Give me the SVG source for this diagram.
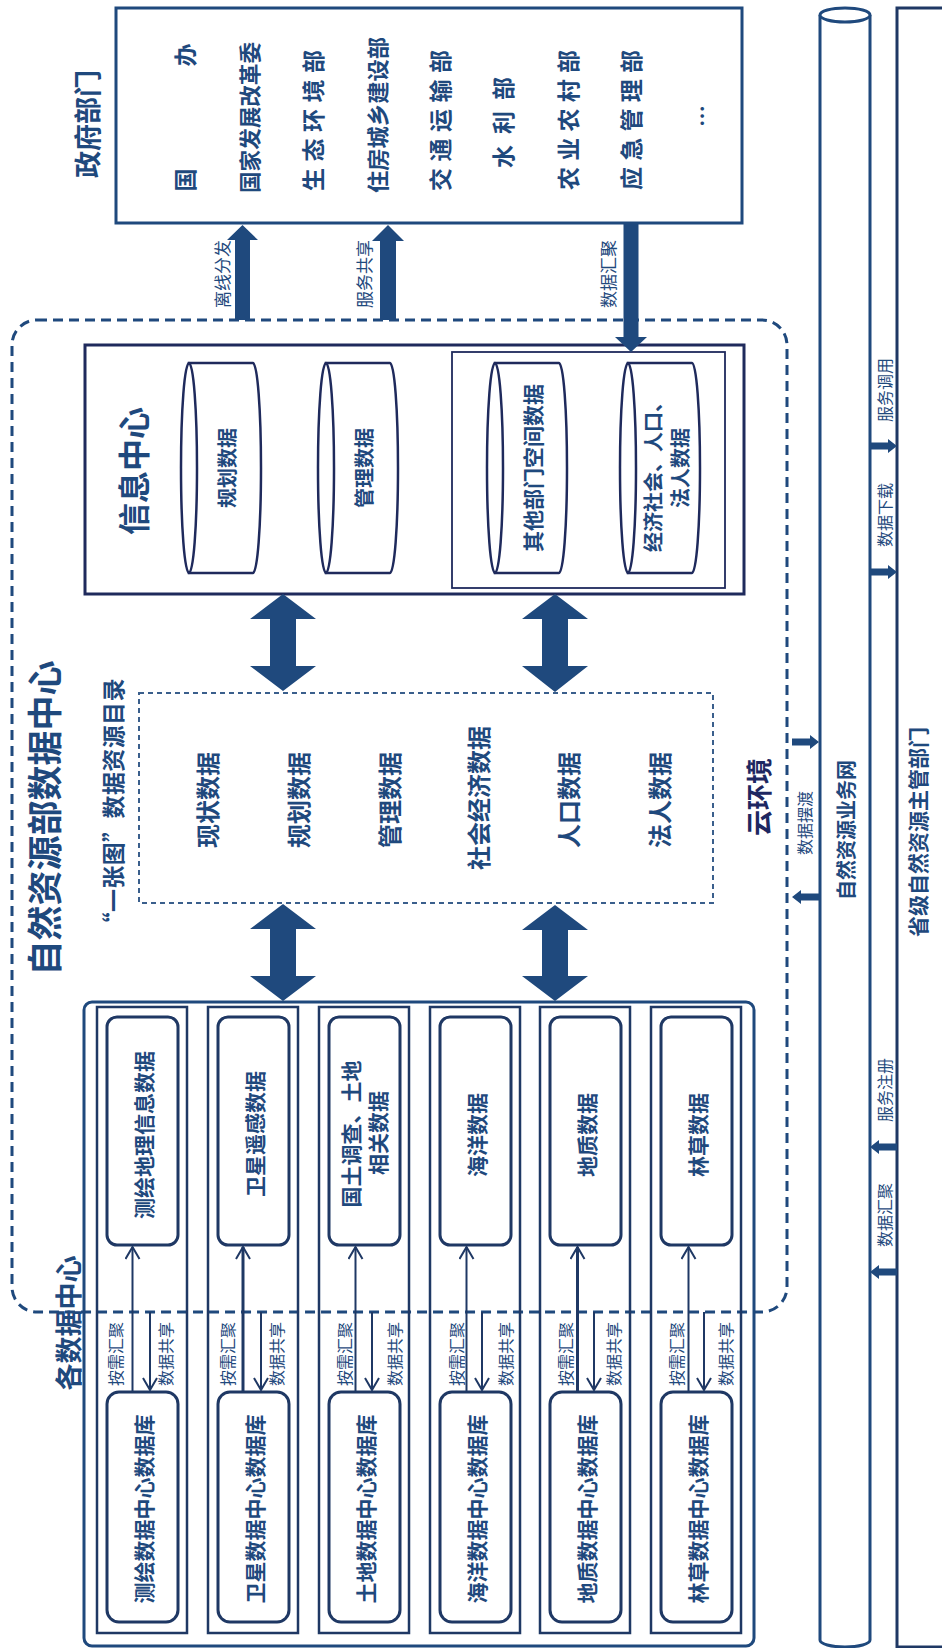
<svg xmlns="http://www.w3.org/2000/svg" width="942" height="1648" viewBox="0 0 942 1648">
<style>
.t{font-family:"Noto Sans CJK SC","Noto Sans",sans-serif;fill:#1F497D;text-anchor:middle;dominant-baseline:central}
.b{font-weight:bold}
.nv{fill:#1E2761}
.arr{fill:#1F497D}
.col{fill:none;stroke:#1F3864;stroke-width:2.5}
.ibox{fill:#fff;stroke:#1F3864;stroke-width:3}
.cyl{fill:#fff;stroke:#1F2A5C;stroke-width:2.5}
.ln{stroke:#1F3864;stroke-width:2;fill:none}
.ln3{stroke:#1F3864;stroke-width:3;fill:none}
</style>
<defs>
<marker id="v" markerUnits="userSpaceOnUse" markerWidth="16" markerHeight="16" refX="13" refY="8" orient="auto">
<path d="M1,1 L13,8 L1,15" fill="none" stroke="#1F3864" stroke-width="2"/>
</marker>
</defs>
<rect width="942" height="1648" fill="#fff"/>

<!-- Government departments -->
<g id="gov">
<rect x="116" y="8" width="626" height="215" fill="#fff" stroke="#1F497D" stroke-width="3"/>
<text class="t b" style="font-size:27px" transform="translate(86,124) rotate(-90)">政府部门</text>
<text class="t b" style="font-size:23px" transform="translate(184,117.5) rotate(-90)" textLength="148" lengthAdjust="spacing">国办</text>
<text class="t b" style="font-size:22px" transform="translate(248,117.5) rotate(-90)" textLength="151" lengthAdjust="spacingAndGlyphs">国家发展改革委</text>
<text class="t b" style="font-size:23px" transform="translate(312,120.5) rotate(-90)" textLength="141" lengthAdjust="spacing">生态环境部</text>
<text class="t b" style="font-size:22px" transform="translate(376,115) rotate(-90)" textLength="156" lengthAdjust="spacingAndGlyphs">住房城乡建设部</text>
<text class="t b" style="font-size:23px" transform="translate(439,120.5) rotate(-90)" textLength="141" lengthAdjust="spacing">交通运输部</text>
<text class="t b" style="font-size:23px" transform="translate(502,122.5) rotate(-90)" textLength="91" lengthAdjust="spacing">水利部</text>
<text class="t b" style="font-size:23px" transform="translate(567,120) rotate(-90)" textLength="140" lengthAdjust="spacing">农业农村部</text>
<text class="t b" style="font-size:23px" transform="translate(630,120) rotate(-90)" textLength="140" lengthAdjust="spacing">应急管理部</text>
<text class="t b" style="font-size:22px" transform="translate(700,116) rotate(-90)">…</text>
</g>

<!-- Ministry data center region -->
<g id="ministry">
<rect x="12" y="320" width="775" height="992" rx="25" fill="none" stroke="#1F497D" stroke-width="3" stroke-dasharray="10 6"/>
<text class="t b" style="font-size:35px" transform="translate(42,818) rotate(-90)">自然资源部数据中心</text>
<text class="t b nv" style="font-size:26px" transform="translate(757,797) rotate(-90)">云环境</text>
</g>

<!-- Information center -->
<g id="info">
<rect x="85" y="345" width="659" height="249" fill="#fff" stroke="#1F2A5C" stroke-width="3"/>
<rect x="452" y="352" width="273" height="236" fill="none" stroke="#1F2A5C" stroke-width="1.8"/>
<text class="t b" style="font-size:32px" transform="translate(132,471) rotate(-90)">信息中心</text>
<g id="cyl1">
<path class="cyl" d="M189,363 H253 A8,105 0 0 1 253,573 H189 Z"/>
<ellipse class="cyl" cx="189" cy="468" rx="8" ry="105"/>
<text class="t b" style="font-size:20px" transform="translate(226,468) rotate(-90)">规划数据</text>
</g>
<g id="cyl2">
<path class="cyl" d="M326,363 H390 A8,105 0 0 1 390,573 H326 Z"/>
<ellipse class="cyl" cx="326" cy="468" rx="8" ry="105"/>
<text class="t b" style="font-size:20px" transform="translate(363,468) rotate(-90)">管理数据</text>
</g>
<g id="cyl3">
<path class="cyl" d="M495,363 H559 A8,105 0 0 1 559,573 H495 Z"/>
<ellipse class="cyl" cx="495" cy="468" rx="8" ry="105"/>
<text class="t b" style="font-size:21px" transform="translate(532,468) rotate(-90)">其他部门空间数据</text>
</g>
<g id="cyl4">
<path class="cyl" d="M628,363 H692 A8,105 0 0 1 692,573 H628 Z"/>
<ellipse class="cyl" cx="628" cy="468" rx="8" ry="105"/>
<text class="t b" style="font-size:20px" transform="translate(652,472) rotate(-90)">经济社会、人口、</text>
<text class="t b" style="font-size:20px" transform="translate(679,468) rotate(-90)">法人数据</text>
</g>
</g>

<!-- Catalogue -->
<g id="catalog">
<rect x="139" y="693" width="574" height="210" fill="none" stroke="#3A5F8C" stroke-width="2" stroke-dasharray="5 4"/>
<text class="t b" style="font-size:23px" transform="translate(112,807) rotate(-90)" textLength="257" lengthAdjust="spacing">“一张图”数据资源目录</text>
<text class="t b" style="font-size:24px" transform="translate(206,800) rotate(-90)">现状数据</text>
<text class="t b" style="font-size:24px" transform="translate(297,800) rotate(-90)">规划数据</text>
<text class="t b" style="font-size:24px" transform="translate(388,800) rotate(-90)">管理数据</text>
<text class="t b" style="font-size:24px" transform="translate(477,798) rotate(-90)">社会经济数据</text>
<text class="t b" style="font-size:24px" transform="translate(567,800) rotate(-90)">人口数据</text>
<text class="t b" style="font-size:24px" transform="translate(658,800) rotate(-90)">法人数据</text>
</g>

<!-- Data centers -->
<g id="centers">
<rect x="84" y="1002" width="670" height="644" rx="8" fill="none" stroke="#1F497D" stroke-width="3"/>
<text class="t b" style="font-size:27px" transform="translate(67,1323) rotate(-90)">各数据中心</text>
</g>
<g id="dc1">
<rect class="col" x="97" y="1007" width="90" height="626"/>
<rect class="ibox" x="107" y="1017" width="71" height="228" rx="10"/>
<rect class="ibox" x="107" y="1392" width="71" height="230" rx="12"/>
<text class="t b" style="font-size:21px" transform="translate(142.5,1135) rotate(-90)">测绘地理信息数据</text>
<text class="t b" style="font-size:21px" transform="translate(142.5,1509) rotate(-90)">测绘数据中心数据库</text>
</g>
<g id="dc2">
<rect class="col" x="208" y="1007" width="90" height="626"/>
<rect class="ibox" x="218" y="1017" width="71" height="228" rx="10"/>
<rect class="ibox" x="218" y="1392" width="71" height="230" rx="12"/>
<text class="t b" style="font-size:21px" transform="translate(253.5,1134) rotate(-90)">卫星遥感数据</text>
<text class="t b" style="font-size:21px" transform="translate(253.5,1509) rotate(-90)">卫星数据中心数据库</text>
</g>
<g id="dc3">
<rect class="col" x="319" y="1007" width="90" height="626"/>
<rect class="ibox" x="329" y="1017" width="71" height="228" rx="10"/>
<rect class="ibox" x="329" y="1392" width="71" height="230" rx="12"/>
<text class="t b" style="font-size:21px" transform="translate(350,1134) rotate(-90)">国土调查、土地</text>
<text class="t b" style="font-size:21px" transform="translate(377,1133) rotate(-90)">相关数据</text>
<text class="t b" style="font-size:21px" transform="translate(364.5,1509) rotate(-90)">土地数据中心数据库</text>
</g>
<g id="dc4">
<rect class="col" x="430" y="1007" width="90" height="626"/>
<rect class="ibox" x="440" y="1017" width="71" height="228" rx="10"/>
<rect class="ibox" x="440" y="1392" width="71" height="230" rx="12"/>
<text class="t b" style="font-size:21px" transform="translate(475.5,1135) rotate(-90)">海洋数据</text>
<text class="t b" style="font-size:21px" transform="translate(475.5,1509) rotate(-90)">海洋数据中心数据库</text>
</g>
<g id="dc5">
<rect class="col" x="540" y="1007" width="90" height="626"/>
<rect class="ibox" x="550" y="1017" width="71" height="228" rx="10"/>
<rect class="ibox" x="550" y="1392" width="71" height="230" rx="12"/>
<text class="t b" style="font-size:21px" transform="translate(585.5,1135) rotate(-90)">地质数据</text>
<text class="t b" style="font-size:21px" transform="translate(585.5,1509) rotate(-90)">地质数据中心数据库</text>
</g>
<g id="dc6">
<rect class="col" x="651" y="1007" width="90" height="626"/>
<rect class="ibox" x="661" y="1017" width="71" height="228" rx="10"/>
<rect class="ibox" x="661" y="1392" width="71" height="230" rx="12"/>
<text class="t b" style="font-size:21px" transform="translate(696.5,1135) rotate(-90)">林草数据</text>
<text class="t b" style="font-size:21px" transform="translate(696.5,1509) rotate(-90)">林草数据中心数据库</text>
</g>

<!-- Network pipe -->
<g id="pipe">
<path d="M820,15 V1640 A25,7 0 0 0 870,1640 V15" fill="#fff" stroke="#1F497D" stroke-width="3"/>
<ellipse cx="845" cy="15" rx="25" ry="7" fill="#fff" stroke="#1F497D" stroke-width="3"/>
<text class="t b" style="font-size:20px" transform="translate(845,830) rotate(-90)">自然资源业务网</text>
</g>

<!-- Provincial department -->
<g id="province">
<rect x="897" y="8" width="70" height="1639" fill="#fff" stroke="#1F3864" stroke-width="3"/>
<text class="t b" style="font-size:21px" transform="translate(917,832) rotate(-90)">省级自然资源主管部门</text>
</g>

<!-- Connectors -->
<g id="connectors">
<polygon class="arr" points="242.5,225 258,240 250,240 250,320 235,320 235,240 227,240"/>
<polygon class="arr" points="388,225 404,241 396,241 396,320 380,320 380,241 372,241"/>
<polygon class="arr" points="623.5,223 638.5,223 638.5,337 647,337 631,352 615,337 623.5,337"/>
<text class="t" style="font-size:17px" transform="translate(221,274) rotate(-90)">离线分发</text>
<text class="t" style="font-size:17px" transform="translate(363,274) rotate(-90)">服务共享</text>
<text class="t" style="font-size:17px" transform="translate(607,274) rotate(-90)">数据汇聚</text>

<polygon class="arr" points="283,594 316,619 296,619 296,666 316,666 283,691 250,666 270,666 270,619 250,619"/>
<polygon class="arr" points="555,594 588,619 568,619 568,666 588,666 555,692 522,666 542,666 542,619 522,619"/>
<polygon class="arr" points="283,904 316,929 296,929 296,976 316,976 283,1001 250,976 270,976 270,929 250,929"/>
<polygon class="arr" points="555,905 588,930 568,930 568,976 588,976 555,1001 522,976 542,976 542,930 522,930"/>

<line class="ln" x1="132.5" y1="1392" x2="132.5" y2="1247" marker-end="url(#v)"/>
<line class="ln" x1="150" y1="1312" x2="150" y2="1390" marker-end="url(#v)"/>
<line class="ln3" x1="243" y1="1392" x2="243" y2="1247" marker-end="url(#v)"/>
<line class="ln" x1="261" y1="1312" x2="261" y2="1390" marker-end="url(#v)"/>
<line class="ln" x1="355.5" y1="1392" x2="355.5" y2="1247" marker-end="url(#v)"/>
<line class="ln" x1="372" y1="1312" x2="372" y2="1390" marker-end="url(#v)"/>
<line class="ln" x1="466.5" y1="1392" x2="466.5" y2="1247" marker-end="url(#v)"/>
<line class="ln" x1="482" y1="1312" x2="482" y2="1390" marker-end="url(#v)"/>
<line class="ln3" x1="577.5" y1="1392" x2="577.5" y2="1247" marker-end="url(#v)"/>
<line class="ln" x1="594" y1="1312" x2="594" y2="1390" marker-end="url(#v)"/>
<line class="ln" x1="688.5" y1="1392" x2="688.5" y2="1247" marker-end="url(#v)"/>
<line class="ln" x1="704" y1="1312" x2="704" y2="1390" marker-end="url(#v)"/>

<text class="t" style="font-size:16px" transform="translate(115,1354) rotate(-90)">按需汇聚</text>
<text class="t" style="font-size:16px" transform="translate(165,1354) rotate(-90)">数据共享</text>
<text class="t" style="font-size:16px" transform="translate(227,1354) rotate(-90)">按需汇聚</text>
<text class="t" style="font-size:16px" transform="translate(276,1354) rotate(-90)">数据共享</text>
<text class="t" style="font-size:16px" transform="translate(344,1354) rotate(-90)">按需汇聚</text>
<text class="t" style="font-size:16px" transform="translate(394,1354) rotate(-90)">数据共享</text>
<text class="t" style="font-size:16px" transform="translate(456,1354) rotate(-90)">按需汇聚</text>
<text class="t" style="font-size:16px" transform="translate(505,1354) rotate(-90)">数据共享</text>
<text class="t" style="font-size:16px" transform="translate(565,1354) rotate(-90)">按需汇聚</text>
<text class="t" style="font-size:16px" transform="translate(613,1354) rotate(-90)">数据共享</text>
<text class="t" style="font-size:16px" transform="translate(676,1354) rotate(-90)">按需汇聚</text>
<text class="t" style="font-size:16px" transform="translate(725,1354) rotate(-90)">数据共享</text>

<polygon class="arr" points="792,738.5 810,738.5 810,735 819,742 810,749 810,745.5 792,745.5"/>
<polygon class="arr" points="819,893.5 801,893.5 801,890 792,897 801,904 801,900.5 819,900.5"/>
<text class="t" style="font-size:16px" transform="translate(804,823) rotate(-90)">数据摆渡</text>

<polygon class="arr" points="870,442.5 888,442.5 888,439 897,446 888,453 888,449.5 870,449.5"/>
<polygon class="arr" points="870,568.5 888,568.5 888,565 897,572 888,579 888,575.5 870,575.5"/>
<polygon class="arr" points="897,1143.5 879,1143.5 879,1140 870,1147 879,1154 879,1150.5 897,1150.5"/>
<polygon class="arr" points="897,1268.5 879,1268.5 879,1265 870,1272 879,1279 879,1275.5 897,1275.5"/>
<text class="t" style="font-size:16px" transform="translate(884,390) rotate(-90)">服务调用</text>
<text class="t" style="font-size:16px" transform="translate(884,515) rotate(-90)">数据下载</text>
<text class="t" style="font-size:16px" transform="translate(884,1090) rotate(-90)">服务注册</text>
<text class="t" style="font-size:16px" transform="translate(884,1215) rotate(-90)">数据汇聚</text>
</g>
</svg>
